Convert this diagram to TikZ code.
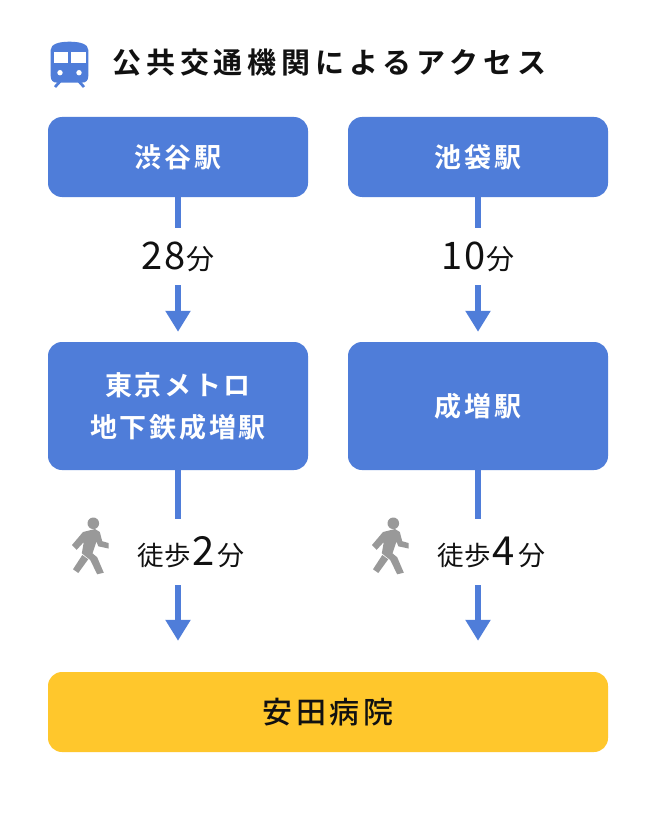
\documentclass[tikz,border=0pt]{standalone}
\usepackage{fontspec}
\setmainfont{Noto Sans CJK JP}
\usetikzlibrary{arrows.meta}
\definecolor{boxblue}{HTML}{4F7DD9}
\definecolor{hospital}{HTML}{FFC72C}
\definecolor{walkgray}{HTML}{999999}
\definecolor{ink}{HTML}{111111}
\newcommand{\fs}[2]{\fontsize{#1pt}{#2pt}\selectfont}
\newfontfamily\boxfont[LetterSpace=10]{Noto Sans CJK JP Bold}
\newfontfamily\titlefont[LetterSpace=17]{Noto Sans CJK JP Bold}
\newfontfamily\hospfont[LetterSpace=13]{Noto Sans CJK JP Medium}
\newfontfamily\lblfont[LetterSpace=3]{Noto Sans CJK JP}
\tikzset{
  station/.style={draw=none,fill=boxblue,rounded corners=14pt,minimum width=260pt,text=white,align=center,inner sep=0pt,font=\boxfont\fs{27}{42}},
  goal/.style={draw=none,fill=hospital,rounded corners=14pt,minimum width=560pt,minimum height=80pt,text=ink,inner sep=0pt,font=\hospfont\fs{30}{36}},
  lbl/.style={inner sep=0pt,text=ink,font=\lblfont},
  link/.style={draw=boxblue,line width=6pt},
  linkarrow/.style={link,-{Triangle[length=21pt,width=24pt]},shorten >=10pt},
  lastarrow/.style={link,-{Triangle[length=21pt,width=24pt]},shorten >=31pt},
  walker/.pic={
    \fill[walkgray] (93.3,523.3) circle (5.8);
    \fill[walkgray] (72,545) -- (83,532) -- (95,529) -- (99.8,532) -- (102.2,541.2) -- (108.5,543) -- (108.5,548.5) -- (98.3,546.3) -- (96.5,541.5) -- (92.5,553.3) -- (97.2,557.3) -- (103.8,572.7) -- (97.2,574.3) -- (90.2,560) -- (81.8,553.3) -- (83.8,542) -- (76.7,549.8) -- cycle;
    \fill[walkgray] (82.3,555) -- (88.2,559.3) -- (78.3,573) -- (73,569.3) -- cycle;
  }
}
\begin{document}
\begin{tikzpicture}[x=1pt,y=-1pt]
\useasboundingbox (0,0) rectangle (655,821);
\fill[white] (0,0) rectangle (655,821);
% train icon
\fill[boxblue] (50.7,50) .. controls (50.7,44) and (59,41.7) .. (69.5,41.7) .. controls (80,41.7) and (88.3,44) .. (88.3,50) -- (88.3,76) .. controls (88.3,80.5) and (86,82.7) .. (81.5,82.7) -- (57.5,82.7) .. controls (53,82.7) and (50.7,80.5) .. (50.7,76) -- cycle;
\fill[white] (53.5,51.7) rectangle (68.3,62.7);
\fill[white] (71,51.7) rectangle (86,62.7);
\fill[white] (60,72.7) circle (2.7);
\fill[white] (79,72.7) circle (2.7);
\draw[boxblue,line width=2.7pt] (60,81.5) -- (55,87);
\draw[boxblue,line width=2.7pt] (79,81.5) -- (84,87);
\node[anchor=west,inner sep=0pt,text=ink,font=\titlefont\fs{29}{34}] (title) at (112,63) {公共交通機関によるアクセス};
% stations
\node[station,minimum height=80pt] (shibuya) at (178,157) {\raisebox{-1pt}{渋谷駅}};
\node[station,minimum height=80pt] (ikebukuro) at (478,157) {\raisebox{-1pt}{池袋駅}};
\node[station,minimum height=128pt] (metro) at (178,406) {東京メトロ\\地下鉄成増駅};
\node[station,minimum height=128pt] (narimasu) at (478,406) {\raisebox{-1pt}{成増駅}};
\node[goal] (hospitalnode) at (328,712) {安田病院};
% labels
\node[lbl] (t28) at (178,257) {\fs{38}{40}28\hspace{1pt}\fs{28}{40}分};
\node[lbl] (t10) at (478,257) {\fs{38}{40}10\hspace{1pt}\fs{28}{40}分};
\node[lbl] (w2) at (191,552) {\fs{26.5}{40}徒歩\hspace{2pt}\fs{40}{40}2\hspace{3pt}\fs{27}{40}分};
\node[lbl] (w4) at (491,552) {\fs{26.5}{40}徒歩\hspace{2pt}\fs{40}{40}4\hspace{3pt}\fs{27}{40}分};
% gap ends
\coordinate (a1) at (178,228); \coordinate (a2) at (178,285);
\coordinate (b1) at (478,228); \coordinate (b2) at (478,285);
\coordinate (c1) at (178,519); \coordinate (c2) at (178,585);
\coordinate (d1) at (478,519); \coordinate (d2) at (478,585);
% connectors
\draw[link] (shibuya.south) -- (a1);
\draw[linkarrow] (a2) -- (metro.north);
\draw[link] (ikebukuro.south) -- (b1);
\draw[linkarrow] (b2) -- (narimasu.north);
\draw[link] (metro.south) -- (c1);
\draw[lastarrow] (c2) -- (c2 |- hospitalnode.north);
\draw[link] (narimasu.south) -- (d1);
\draw[lastarrow] (d2) -- (d2 |- hospitalnode.north);
% walkers
\pic at (0,0) {walker};
\pic at (300,0) {walker};
\end{tikzpicture}
\end{document}
